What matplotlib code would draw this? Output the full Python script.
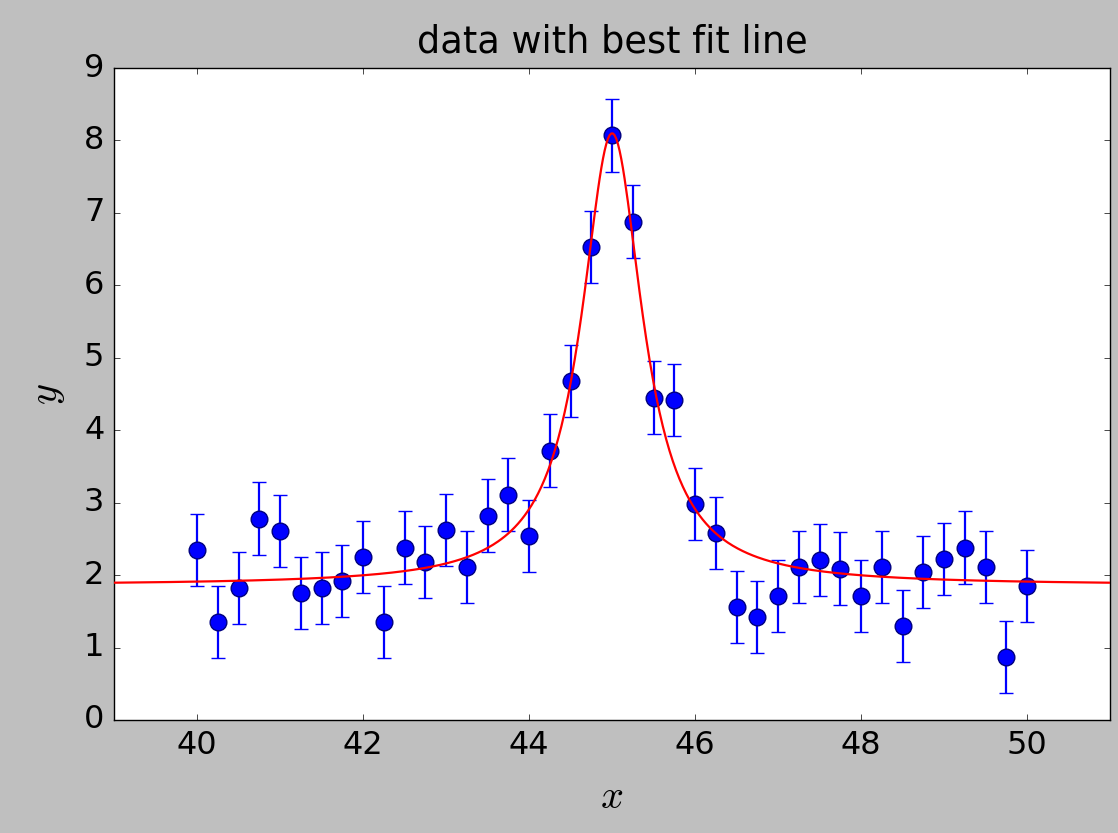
import numpy as np
import matplotlib
matplotlib.use('Agg')
import matplotlib.pyplot as plt

plt.style.use('classic')

# data points
x = [40.0, 40.25, 40.5, 40.75, 41.0, 41.25, 41.5, 41.75, 42.0, 42.25,
     42.5, 42.75, 43.0, 43.25, 43.5, 43.75, 44.0, 44.25, 44.5, 44.75,
     45.0, 45.25, 45.5, 45.75, 46.0, 46.25, 46.5, 46.75, 47.0, 47.25,
     47.5, 47.75, 48.0, 48.25, 48.5, 48.75, 49.0, 49.25, 49.5, 49.75, 50.0]
y = [2.35, 1.35, 1.82, 2.78, 2.61, 1.75, 1.82, 1.92, 2.25, 1.35,
     2.38, 2.18, 2.62, 2.11, 2.82, 3.11, 2.54, 3.72, 4.68, 6.53,
     8.07, 6.88, 4.45, 4.42, 2.98, 2.58, 1.56, 1.42, 1.71, 2.11,
     2.21, 2.09, 1.71, 2.11, 1.30, 2.04, 2.22, 2.38, 2.11, 0.87, 1.85]
yerr = 0.5

# best fit lorentzian parameters
baseline = 1.86
amplitude = 6.24
center = 45.0
gamma = 0.45

xfit = np.linspace(39, 51, 600)
yfit = baseline + amplitude * gamma**2 / ((xfit - center)**2 + gamma**2)

fig = plt.figure(figsize=(11.18, 8.33), dpi=100, facecolor='0.75')
ax = fig.add_axes([0.102, 0.1357, 0.891, 0.7826])

ax.errorbar(x, y, yerr=yerr, fmt='o', color='blue', ms=12, mec='navy',
            mew=1, elinewidth=1.6, capsize=5, capthick=1.6, zorder=2)
ax.plot(xfit, yfit, color='red', lw=1.6, zorder=3)

ax.set_xlim(39, 51)
ax.set_ylim(0, 9)
ax.set_xticks([40, 42, 44, 46, 48, 50])
ax.set_yticks(range(10))
ax.tick_params(labelsize=23, pad=7)
ax.set_xlabel('$x$', fontsize=29, labelpad=12)
ax.set_ylabel('$y$', fontsize=29, labelpad=12)
ax.set_title('data with best fit line', fontsize=26.5, pad=11)

fig.savefig('out.png', dpi=100, facecolor=fig.get_facecolor())
